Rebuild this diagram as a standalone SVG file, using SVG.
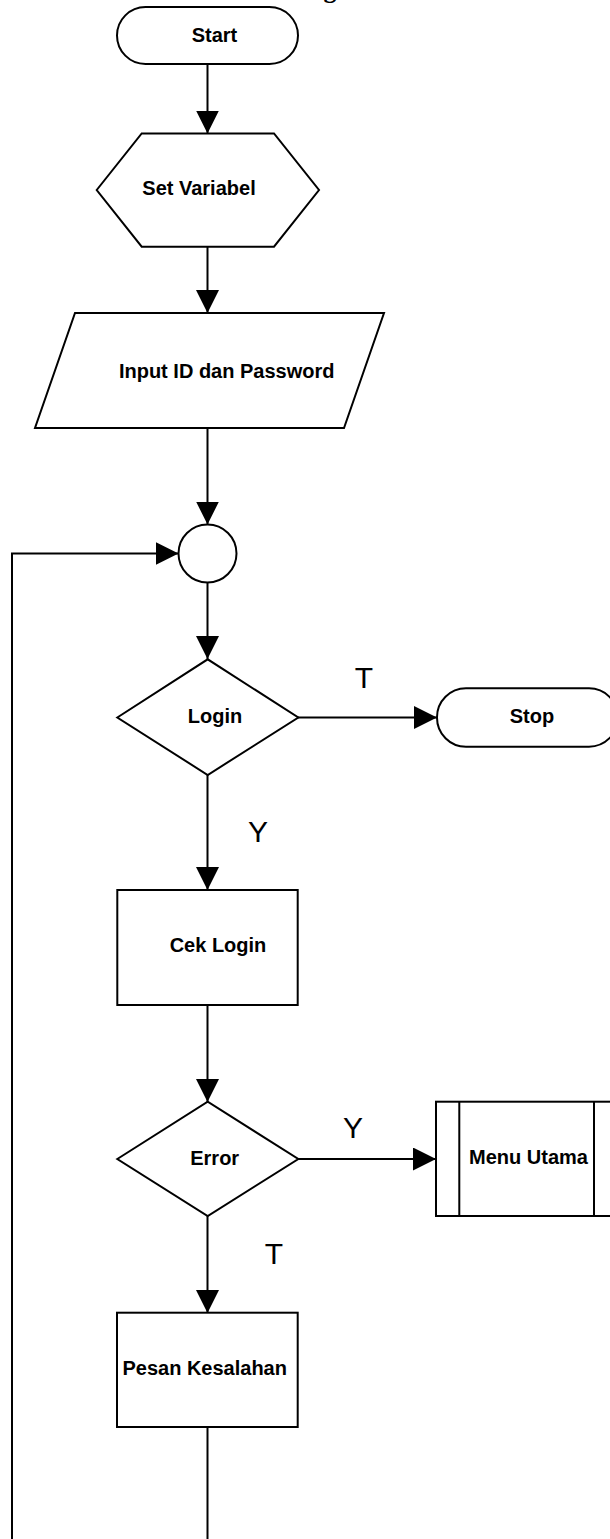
<svg xmlns="http://www.w3.org/2000/svg" width="610" height="1539" viewBox="0 0 610 1539">
<style>
.s{fill:#fff;stroke:#000;stroke-width:2}
.c{fill:none;stroke:#000;stroke-width:2}
.t{font-family:"Liberation Sans",Arial,sans-serif;font-weight:bold;font-size:20px;fill:#000;text-anchor:middle}
.l{font-family:"Liberation Sans",Arial,sans-serif;font-size:30px;fill:#000;text-anchor:middle}
</style>
<defs>
<marker id="ah" markerUnits="userSpaceOnUse" markerWidth="24" markerHeight="24" refX="23" refY="11.5" orient="auto">
<path d="M0,0 L23,11.5 L0,23 Z" fill="#000"/>
</marker>
</defs>
<rect width="610" height="1539" fill="#fff"/>
<text x="330" y="-2" font-family="'Liberation Serif',serif" font-weight="bold" font-size="26" text-anchor="middle">g</text>
<g id="connectors">
<path class="c" d="M207.5,64 V133.5" marker-end="url(#ah)"/>
<path class="c" d="M207.5,247 V313" marker-end="url(#ah)"/>
<path class="c" d="M207.5,428 V524.5" marker-end="url(#ah)"/>
<path class="c" d="M207.5,582.5 V659" marker-end="url(#ah)"/>
<path class="c" d="M207.5,775 V890" marker-end="url(#ah)"/>
<path class="c" d="M207.5,1005 V1102" marker-end="url(#ah)"/>
<path class="c" d="M207.5,1216 V1313" marker-end="url(#ah)"/>
<path class="c" d="M298,717.5 H437" marker-end="url(#ah)"/>
<path class="c" d="M298,1159 H436" marker-end="url(#ah)"/>
<path class="c" d="M207.5,1427 V1540"/>
<path class="c" d="M12,1540 V553.5 H178.5" marker-end="url(#ah)"/>
<text class="l" x="364" y="688">T</text>
<text class="l" x="258" y="842">Y</text>
<text class="l" x="353" y="1138">Y</text>
<text class="l" x="274" y="1264">T</text>
</g>
<g id="start">
<rect class="s" x="117" y="7" width="181" height="57" rx="28.5" ry="28.5"/>
<text class="t" x="214.5" y="42">Start</text>
</g>
<g id="set-variabel">
<polygon class="s" points="96.7,190 141.7,133.5 274,133.5 319,190 274,246.7 141.7,246.7"/>
<text class="t" x="199" y="195">Set Variabel</text>
</g>
<g id="input">
<polygon class="s" points="75,313 384,313 344,428 35,428"/>
<text class="t" x="226.7" y="378">Input ID dan Password</text>
</g>
<g id="connector-circle">
<circle class="s" cx="207.5" cy="553.5" r="29"/>
</g>
<g id="login">
<polygon class="s" points="117.3,717.5 207.7,659.3 298.3,717.5 207.7,775"/>
<text class="t" x="215" y="723.3">Login</text>
</g>
<g id="stop">
<rect class="s" x="437" y="688.3" width="181" height="58.4" rx="29" ry="29"/>
<text class="t" x="532" y="723.3">Stop</text>
</g>
<g id="cek-login">
<rect class="s" x="117.3" y="890" width="180.4" height="115"/>
<text class="t" x="218" y="951.7">Cek Login</text>
</g>
<g id="error">
<polygon class="s" points="117.3,1159 207.7,1101.7 298.3,1159 207.7,1216"/>
<text class="t" x="214.7" y="1165">Error</text>
</g>
<g id="menu-utama">
<rect class="s" x="436" y="1101.7" width="181" height="114.3"/>
<path class="c" d="M459.3,1101.7 V1216 M594,1101.7 V1216"/>
<text class="t" x="528.5" y="1164">Menu Utama</text>
</g>
<g id="pesan-kesalahan">
<rect class="s" x="117" y="1312.7" width="180.7" height="114.3"/>
<text class="t" x="204.7" y="1375">Pesan Kesalahan</text>
</g>
</svg>
